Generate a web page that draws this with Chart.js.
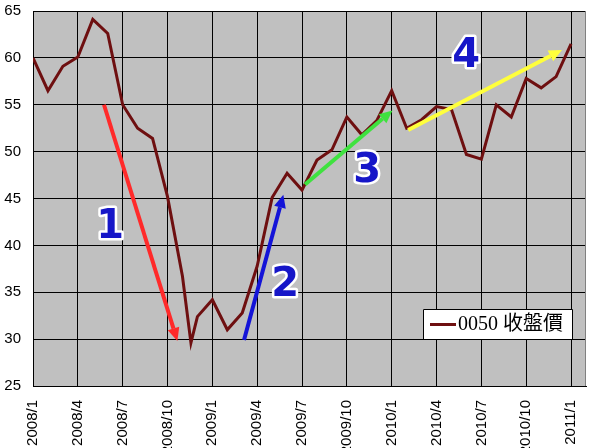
<!DOCTYPE html>
<html>
<head>
<meta charset="utf-8">
<script src="https://cdn.jsdelivr.net/npm/chart.js@4"></script>
<style>
  html, body { margin:0; padding:0; background:#fff; overflow:hidden; }
</style>
</head>
<body>
<canvas id="chart" width="595" height="448"></canvas>
<script>
// ===== Data =====
const seriesLabel = '0050 收盤價';
const closeDates = [
  '2008/1/1','2008/2/1','2008/3/1','2008/4/1','2008/5/1','2008/6/1',
  '2008/7/1','2008/8/1','2008/9/1','2008/10/1','2008/11/1','2008/11/18',
  '2008/12/1',
  '2009/1/1','2009/2/1','2009/3/1','2009/4/1','2009/5/1','2009/6/1',
  '2009/7/1','2009/8/1','2009/9/1','2009/10/1','2009/11/1','2009/12/1',
  '2010/1/1','2010/2/1','2010/3/1','2010/4/1','2010/5/1','2010/6/1',
  '2010/7/1','2010/8/1','2010/9/1','2010/10/1','2010/11/1','2010/12/1',
  '2011/1/1'
];
const closePrices = [
  60.0, 56.5, 59.1, 60.1, 64.1, 62.6,
  55.0, 52.5, 51.4, 45.2, 36.7, 29.6,
  32.4,
  34.2, 31.0, 32.8, 37.8, 45.1, 47.7,
  45.9, 49.1, 50.2, 53.7, 51.8, 53.3,
  56.5, 52.5, 53.4, 54.8, 54.5, 49.7,
  49.2, 55.0, 53.7, 57.8, 56.8, 58.0,
  61.5
];
const tickLabels = ['2008/1','2008/4','2008/7','2008/10','2009/1','2009/4','2009/7',
                    '2009/10','2010/1','2010/4','2010/7','2010/10','2011/1'];

// trend arrows, in months since 2008/1 and price: [x0, y0, x1, y1]
const trendArrows = [
  [4.75, 55.0, 9.66, 29.8],
  [14.12, 29.9, 16.75, 45.4],
  [18.2, 46.5, 24.05, 54.4],
  [25.1, 52.3, 35.39, 60.85]
];
const arrowColors = ['#ff2a2a', '#1414d8', '#3fe23f', '#ffff3c'];
const trendNames = ['1', '2', '3', '4'];
const trendNamePos = [[5.16, 41.9], [16.87, 35.7], [22.36, 47.9], [28.98, 60.1]];

function toMonth(d){
  const [y, m, day] = d.split('/').map(Number);
  const dim = new Date(y, m, 0).getDate();
  return (y - 2008) * 12 + (m - 1) + (day - 1) / dim;
}

const lineColor = '#6e0f10';

function drawArrow(ctx, x0, y0, x1, y1, color){
  const ang = Math.atan2(y1 - y0, x1 - x0), head = 13, half = 6;
  const bx = x1 - head * Math.cos(ang), by = y1 - head * Math.sin(ang);
  ctx.strokeStyle = color; ctx.lineWidth = 4; ctx.lineCap = 'butt';
  ctx.beginPath(); ctx.moveTo(x0, y0); ctx.lineTo(bx, by); ctx.stroke();
  ctx.fillStyle = color;
  ctx.beginPath();
  ctx.moveTo(x1, y1);
  ctx.lineTo(bx + half * Math.sin(ang), by - half * Math.cos(ang));
  ctx.lineTo(bx - half * Math.sin(ang), by + half * Math.cos(ang));
  ctx.closePath(); ctx.fill();
}

const decor = {
  id: 'decor',
  beforeDraw(chart){
    const {ctx, chartArea: a} = chart;
    ctx.save();
    ctx.fillStyle = '#c0c0c0';
    ctx.fillRect(a.left, a.top, a.right - a.left, a.bottom - a.top);
    ctx.restore();
  },
  afterDraw(chart){
    const {ctx, chartArea: a, scales: {x, y}} = chart;
    ctx.save();
    // plot border right side
    ctx.strokeStyle = '#808080'; ctx.lineWidth = 1;
    ctx.beginPath(); ctx.moveTo(a.right - 0.5, a.top); ctx.lineTo(a.right - 0.5, a.bottom); ctx.stroke();

    // arrows
    trendArrows.forEach((t, i) => {
      drawArrow(ctx, x.getPixelForValue(t[0]), y.getPixelForValue(t[1]),
                x.getPixelForValue(t[2]), y.getPixelForValue(t[3]), arrowColors[i]);
    });

    // numbers
    ctx.font = 'bold 40px "DejaVu Sans", sans-serif';
    ctx.textAlign = 'center'; ctx.textBaseline = 'middle';
    ctx.lineJoin = 'round';
    trendNames.forEach((n, i) => {
      const px = x.getPixelForValue(trendNamePos[i][0]), py = y.getPixelForValue(trendNamePos[i][1]);
      ctx.strokeStyle = '#fff'; ctx.lineWidth = 5;
      ctx.strokeText(n, px, py);
      ctx.fillStyle = '#1616c8';
      ctx.fillText(n, px, py);
    });

    // legend
    const bw = 149, bh = 30;
    const bx = a.right - 163, by = a.bottom - 77;
    ctx.fillStyle = '#fff'; ctx.fillRect(bx, by, bw, bh);
    ctx.strokeStyle = '#000'; ctx.lineWidth = 1;
    ctx.strokeRect(bx + 0.5, by + 0.5, bw, bh);
    ctx.strokeStyle = lineColor; ctx.lineWidth = 3;
    ctx.beginPath(); ctx.moveTo(bx + 7, by + 15.5); ctx.lineTo(bx + 33, by + 15.5); ctx.stroke();
    ctx.fillStyle = '#000';
    ctx.font = '20px "Liberation Serif", "Noto Sans CJK TC", serif';
    ctx.textAlign = 'left'; ctx.textBaseline = 'middle';
    ctx.fillText(chart.data.datasets[0].label, bx + 35, by + 16);
    ctx.restore();
  }
};

const tickFont = {family: '"Liberation Sans", Arial, sans-serif', size: 15};

new Chart(document.getElementById('chart'), {
  type: 'line',
  data: {
    datasets: [{
      label: seriesLabel,
      data: closeDates.map((d, i) => ({x: toMonth(d), y: closePrices[i]})),
      borderColor: lineColor,
      borderWidth: 3,
      pointRadius: 0,
      tension: 0,
      fill: false
    }]
  },
  options: {
    responsive: false,
    animation: false,
    devicePixelRatio: 1,
    layout: {padding: {top: 11, right: 9, left: 0, bottom: 0}},
    plugins: {legend: {display: false}, tooltip: {enabled: false}},
    scales: {
      x: {
        type: 'linear', min: 0, max: 37,
        afterBuildTicks(s){ s.ticks = tickLabels.map((_, i) => ({value: i * 3})); },
        afterFit(s){ s.height = 62; s.paddingLeft = 0; s.paddingRight = 0; },
        grid: {color: '#000', lineWidth: 1, drawTicks: false},
        border: {color: '#000', width: 1},
        ticks: {
          autoSkip: false, maxRotation: 90, minRotation: 90, padding: 14,
          color: '#000', font: tickFont,
          callback: v => tickLabels[Math.round(v / 3)]
        }
      },
      y: {
        min: 25, max: 65,
        afterFit(s){ s.width = 33; s.paddingTop = 0; s.paddingBottom = 0; },
        grid: {color: '#000', lineWidth: 1, drawTicks: false},
        border: {color: '#000', width: 1},
        ticks: {stepSize: 5, padding: 12, color: '#000', font: tickFont}
      }
    }
  },
  plugins: [decor]
});
</script>
</body>
</html>
